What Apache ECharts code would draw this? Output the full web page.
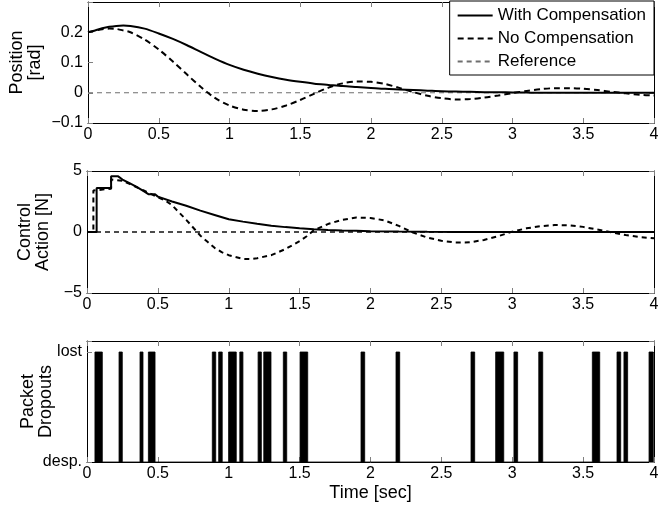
<!DOCTYPE html>
<html>
<head>
<meta charset="utf-8">
<script src="https://cdn.jsdelivr.net/npm/echarts@6/dist/echarts.min.js"></script>
<style>
html,body{margin:0;padding:0;background:#fff;}
#chart{width:671px;height:507px;}
</style>
</head>
<body>
<div id="chart"></div>
<script>
// ---- Data ----
const xTicks = ['0','0.5','1','1.5','2','2.5','3','3.5','4'];
const tPos = [0,0.05,0.1,0.15,0.2,0.25,0.3,0.4,
  0.5,0.6,0.7,0.8,0.9,1.0,1.1,1.2,1.3,1.4,1.5,1.6,1.7,1.8,1.9,2.0,
  2.1,2.2,2.3,2.4,2.5,2.6,2.7,2.8,2.9,3.0,3.1,3.2,3.3,3.4,3.5,3.6,3.7,3.8,3.9,4.0];
const posComp = [0.200,0.206,0.213,0.218,0.221,0.222,0.221,0.212,
  0.196,0.178,0.157,0.134,0.112,0.092,0.076,0.063,0.052,0.043,0.036,0.030,0.026,0.022,0.019,0.016,
  0.013,0.011,0.009,0.007,0.005,0.004,0.003,0.002,0.0015,0.001,0.0005,0,0,0,0,0,0,0,0,0];
const posNoComp = [0.200,0.205,0.210,0.212,0.211,0.206,0.200,0.176,
  0.143,0.103,0.060,0.018,-0.018,-0.042,-0.056,-0.060,-0.055,-0.042,-0.024,-0.003,0.017,0.031,0.037,0.036,
  0.029,0.016,0.002,-0.010,-0.018,-0.022,-0.021,-0.016,-0.009,-0.001,0.006,0.012,0.015,0.015,0.013,0.009,0.003,-0.002,-0.007,-0.009];
const posRef = [[0,0],[4,0]];

const tUc = [0,0.068,0.068,0.17,0.17,0.22,0.22,0.25,0.3,0.35,0.4,0.433,0.48,0.5,
  0.6,0.7,0.8,0.9,1.0,1.1,1.2,1.3,1.4,1.5,1.6,1.7,1.8,1.9,2.0,2.2,2.4,2.6,2.8,3.0,4.0];
const uComp = [0,0,3.6,3.6,4.56,4.56,4.45,4.3,4.0,3.7,3.35,3.1,3.1,2.9,
  2.5,2.15,1.75,1.4,1.05,0.85,0.68,0.52,0.4,0.3,0.23,0.17,0.13,0.1,0.07,0.04,0.02,0.01,0.005,0,0];
const tUn = [0,0.045,0.045,0.17,0.17,0.25,0.3,0.4,0.5,0.55,0.6,0.65,0.7,0.75,0.8,0.85,0.9,0.95,1.0,
  1.1,1.15,1.2,1.3,1.4,1.5,1.55,1.6,
  1.7,1.8,1.9,2.0,2.1,2.2,2.3,2.4,2.5,2.6,2.7,2.8,2.9,3.0,3.1,3.2,3.3,3.4,3.5,3.6,3.7,3.8,3.9,4.0];
const uNoComp = [0,0,3.4,3.55,4.3,4.2,3.95,3.4,2.85,2.6,2.2,1.6,1.0,0.35,-0.3,-0.8,-1.3,-1.65,-1.9,
  -2.2,-2.22,-2.15,-1.9,-1.4,-0.75,-0.35,0.15,
  0.65,1.0,1.18,1.15,0.95,0.5,-0.05,-0.45,-0.72,-0.86,-0.85,-0.65,-0.35,0.03,0.3,0.48,0.57,0.55,0.42,0.2,-0.02,-0.25,-0.42,-0.52];
const uRef = [[0,0],[4,0]];

const dropStart = [0.056,0.226,0.374,0.433,0.884,0.929,0.999,1.078,1.207,1.247,1.385,1.503,1.933,2.180,2.709,2.883,3.012,3.187,3.565,3.739,3.788,3.965];
const dropEnd   = [0.108,0.249,0.395,0.480,0.908,0.954,1.053,1.100,1.230,1.298,1.409,1.557,1.959,2.206,2.735,2.940,3.038,3.215,3.617,3.765,3.814,3.995];
const dropLabels = {0:'desp.', 1:'lost'};

// ---- Build ----
const FONT = '"Liberation Sans", Arial, Helvetica, sans-serif';
const TICKC = '#808080';
const zip = (a,b) => a.map((v,i)=>[v,b[i]]);
const dropPts = [];
dropStart.forEach((s,i)=>{ dropPts.push([s,0],[s,1],[dropEnd[i],1],[dropEnd[i],0]); });
const num = v => String(Math.round(v*1000)/1000).replace('-', '\u2212');

const grids = [
  {left:87, right:17, top:2, height:121},
  {left:87, right:17, top:171, height:122},
  {left:87, right:17, top:341, height:121}
];
const xAxes = [], yAxes = [];
const yCfg = [
  {min:-0.1, max:0.3, interval:0.1, fmt: v => Math.abs(v-0.3)<1e-6 ? '' : num(v), name:'Position\n[rad]', gap:44},
  {min:-5, max:5, interval:5, fmt: v => num(v), name:'Control\nAction [N]', gap:35},
  {min:0, max:1.1, interval:1, fmt: v => (Math.abs(v)<1e-6 ? dropLabels[0] : (Math.abs(v-1)<1e-6 ? dropLabels[1] : '')), name:'Packet\nDropouts', gap:32}
];
for (let g=0; g<3; g++) {
  const base = {
    gridIndex:g, type:'value', min:0, max:4, interval:0.5,
    axisLine:{onZero:false, lineStyle:{color:'#000', width:1}},
    axisTick:{inside:true, length:5, lineStyle:{color:TICKC}},
    splitLine:{show:false}
  };
  xAxes.push(Object.assign({}, base, {
    position:'bottom',
    axisLabel:{color:'#000', fontFamily:FONT, fontSize:16, margin:4,
      formatter: v => xTicks[Math.round(v/0.5)] },
    name: g===2 ? 'Time [sec]' : '',
    nameLocation:'middle', nameGap:22, nameMoveOverlap:false,
    nameTextStyle:{color:'#000', fontFamily:FONT, fontSize:18}
  }));
  xAxes.push(Object.assign({}, base, {position:'top', axisLabel:{show:false}}));
  const c = yCfg[g];
  const ybase = {
    gridIndex:g, type:'value', min:c.min, max:c.max, interval:c.interval,
    axisLine:{onZero:false, lineStyle:{color:'#000', width:1}},
    axisTick:{inside:true, length:5, lineStyle:{color:TICKC}},
    splitLine:{show:false}
  };
  yAxes.push(Object.assign({}, ybase, {
    position:'left',
    axisLabel:{color:'#000', fontFamily:FONT, fontSize:16, margin:5, formatter:c.fmt},
    name:c.name, nameLocation:'middle', nameGap:c.gap, nameRotate:90, nameMoveOverlap:false,
    nameTextStyle:{color:'#000', fontFamily:FONT, fontSize:18, lineHeight:18}
  }));
  yAxes.push(Object.assign({}, ybase, {position:'right', axisLabel:{show:false}}));
}

const series = [
  {name:'With Compensation', type:'line', xAxisIndex:0, yAxisIndex:0, data:zip(tPos,posComp),
   showSymbol:false, symbol:'none', smooth:0.3, color:'#000', lineStyle:{color:'#000', width:2}, z:3},
  {name:'No Compensation', type:'line', xAxisIndex:0, yAxisIndex:0, data:zip(tPos,posNoComp),
   showSymbol:false, symbol:'none', smooth:0.3, color:'#000', lineStyle:{color:'#000', width:2, type:[6,4]}, z:3},
  {name:'Reference', type:'line', xAxisIndex:0, yAxisIndex:0, data:posRef,
   showSymbol:false, symbol:'none', color:'#6e6e6e', lineStyle:{color:'#6e6e6e', width:1, type:[5,4]}, z:2},
  {name:'u comp', type:'line', xAxisIndex:2, yAxisIndex:2, data:zip(tUc,uComp),
   showSymbol:false, symbol:'none', color:'#000', lineStyle:{color:'#000', width:2}, z:3},
  {name:'u nocomp', type:'line', xAxisIndex:2, yAxisIndex:2, data:zip(tUn,uNoComp),
   showSymbol:false, symbol:'none', color:'#000', lineStyle:{color:'#000', width:2, type:[5,4]}, z:3},
  {name:'u ref', type:'line', xAxisIndex:2, yAxisIndex:2, data:uRef,
   showSymbol:false, symbol:'none', color:'#000', lineStyle:{color:'#111', width:1.3, type:[5,4]}, z:2},
  {name:'dropouts', type:'line', xAxisIndex:4, yAxisIndex:4, data:dropPts,
   showSymbol:false, symbol:'none', color:'#000', lineStyle:{color:'#000', width:0.8},
   areaStyle:{color:'#000', opacity:1, origin:0}, z:3}
];

const chart = echarts.init(document.getElementById('chart'), null, {renderer:'canvas'});
chart.setOption({
  animation:false,
  backgroundColor:'#fff',
  grid:grids,
  xAxis:xAxes,
  yAxis:yAxes,
  legend:{
    data:['With Compensation','No Compensation','Reference'],
    orient:'vertical', right:17, top:1,
    itemWidth:35, itemHeight:17, itemGap:6,
    padding:[6,8,5,7],
    borderColor:'#000', borderWidth:1, backgroundColor:'#fff',
    itemStyle:{opacity:0},
    textStyle:{color:'#000', fontFamily:FONT, fontSize:17},
    selectedMode:false
  },
  series:series
});
</script>
</body>
</html>
